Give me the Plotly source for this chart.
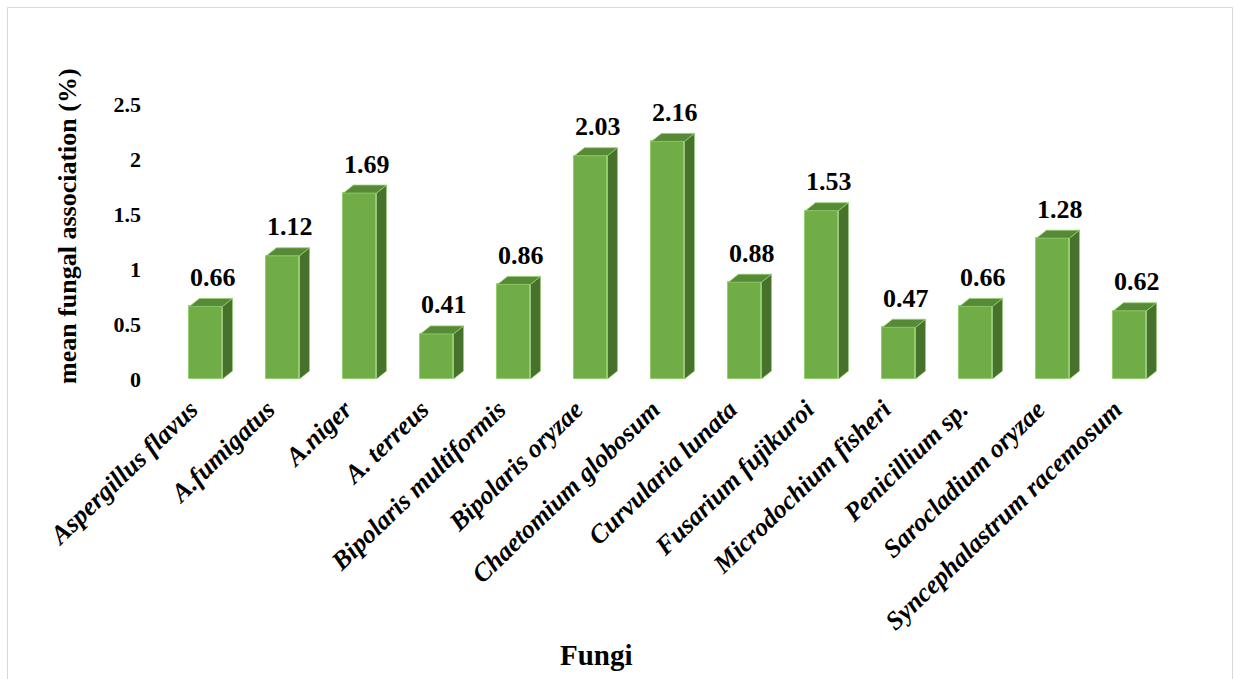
import plotly.graph_objects as go

# Mean fungal association per species
fungi = [
    "Aspergillus flavus", "A.fumigatus", "A.niger", "A. terreus",
    "Bipolaris multiformis", "Bipolaris oryzae", "Chaetomium globosum",
    "Curvularia lunata", "Fusarium fujikuroi", "Microdochium fisheri",
    "Penicillium sp.", "Sarocladium oryzae", "Syncephalastrum racemosum",
]
association = [0.66, 1.12, 1.69, 0.41, 0.86, 2.03, 2.16, 0.88, 1.53, 0.47, 0.66, 1.28, 0.62]
y_ticks = [0, 0.5, 1, 1.5, 2, 2.5]

SERIF = "Liberation Serif"

W, H = 1237, 679
L, R, T, B = 150, 1190, 93, 300          # plot-area edges / margins (px)
plot_w = R - L
plot_h = H - T - B
x0 = -0.727
x_range = [x0, x0 + plot_w / 77.0]
y_range = [0, plot_h / 110.0]

FRONT = "#70AD47"
TOP = "#578A37"
SIDE = "#47722B"
EDGE = "#93CF6E"

bar_w = 33 / 77.0          # front face width in category units
dx = 10 / 77.0             # depth offset, x
dy = 8 / 110.0             # depth offset, y
label_nudge = 0.2          # rotated category labels sit slightly left of the bar

xs = list(range(len(fungi)))
fig = go.Figure()

# front faces
fig.add_trace(go.Bar(
    x=xs, y=association, width=bar_w,
    marker=dict(color=FRONT, line=dict(color=EDGE, width=1)),
    hoverinfo="skip", showlegend=False,
))

# side and top faces for the 3-D look
for x, v in zip(xs, association):
    r = x + bar_w / 2
    l = x - bar_w / 2
    fig.add_trace(go.Scatter(
        x=[r, r + dx, r + dx, r, r], y=[0, dy, v + dy, v, 0],
        mode="lines", fill="toself", fillcolor=SIDE,
        line=dict(color=EDGE, width=0.6), hoverinfo="skip", showlegend=False,
    ))
    fig.add_trace(go.Scatter(
        x=[l, r, r + dx, l + dx, l], y=[v, v, v + dy, v + dy, v],
        mode="lines", fill="toself", fillcolor=TOP,
        line=dict(color=EDGE, width=0.8), hoverinfo="skip", showlegend=False,
    ))

# value labels
for x, v in zip(xs, association):
    fig.add_annotation(
        x=x + dx / 2 + 0.02, y=v + dy, text=f"<b>{v:.2f}</b>", showarrow=False,
        xanchor="center", yanchor="middle", yshift=21,
        font=dict(family=SERIF, size=26, color="black"),
    )

def px_to_paper_x(px):
    return (px - L) / plot_w

def px_to_paper_y(py):
    return (H - B - py) / plot_h

# axis titles
fig.add_annotation(
    xref="paper", yref="paper", x=px_to_paper_x(67), y=px_to_paper_y(226),
    xanchor="center", yanchor="middle",
    text="<b>mean fungal association (%)</b>", textangle=-90, showarrow=False,
    font=dict(family=SERIF, size=26, color="black"),
)
fig.add_annotation(
    xref="paper", yref="paper", x=px_to_paper_x(596), y=px_to_paper_y(655),
    xanchor="center", yanchor="middle",
    text="<b>Fungi</b>", showarrow=False,
    font=dict(family=SERIF, size=29, color="black"),
)

# outer frame
fig.add_shape(
    type="rect", xref="paper", yref="paper",
    x0=px_to_paper_x(7.5), x1=px_to_paper_x(1232.5),
    y0=px_to_paper_y(700), y1=px_to_paper_y(7.5),
    line=dict(color="#D9D9D9", width=1), fillcolor="rgba(0,0,0,0)", layer="below",
)

fig.update_layout(
    width=W, height=H,
    margin=dict(l=L, r=W - R, t=T, b=B),
    paper_bgcolor="white", plot_bgcolor="white",
    font=dict(family=SERIF, color="black"),
    bargap=0,
    xaxis=dict(
        range=x_range, tickmode="array", tickvals=[x - label_nudge for x in xs],
        ticktext=[f"<b><i>{f}</i></b>" for f in fungi],
        tickangle=-44, showgrid=False, zeroline=False, showline=False, ticks="",
        ticklabelstandoff=9,
        tickfont=dict(family=SERIF, size=26, color="black"),
    ),
    yaxis=dict(
        range=y_range, tickmode="array", tickvals=y_ticks,
        ticktext=[f"<b>{t:g}</b>" for t in y_ticks],
        showgrid=False, zeroline=False, showline=False, ticks="",
        ticklabelstandoff=8,
        tickfont=dict(family=SERIF, size=22, color="black"),
    ),
)

fig.write_html("out.html")
